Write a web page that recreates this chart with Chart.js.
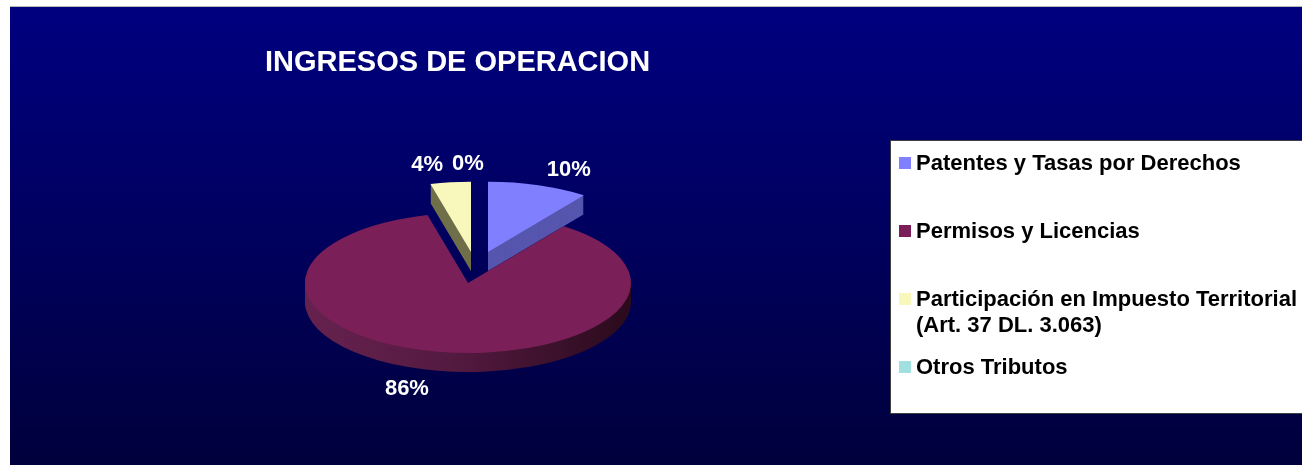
<!DOCTYPE html>
<html>
<head>
<meta charset="utf-8">
<title>Ingresos de Operacion</title>
<script src="https://cdn.jsdelivr.net/npm/chart.js@4.4.1/dist/chart.umd.min.js"></script>
<style>
  html, body { margin: 0; padding: 0; background: #fff; }
  canvas { display: block; }
</style>
</head>
<body>
<canvas id="ingresos" width="1302" height="465"></canvas>
<script>
// --- data ---
const categories = [
  'Patentes y Tasas por Derechos',
  'Permisos y Licencias',
  ['Participación en Impuesto Territorial', '(Art. 37 DL. 3.063)'],
  'Otros Tributos'
];
const shares = [10, 86, 4, 0]; // % of ingresos de operacion

const topColors = ['#8080ff', '#7b1f59', '#f8f8bc', '#a0e0e0'];
const sideColors = ['#5656ae', null, '#6f6f4a', '#6a9a9a']; // null -> shaded gradient

Chart.defaults.font.family = "'Liberation Sans', Arial, sans-serif";

// navy gradient backdrop like the old excel slide
const backdrop = {
  id: 'backdrop',
  beforeDraw(chart) {
    const {ctx, width, height} = chart;
    ctx.save();
    ctx.fillStyle = '#fff';
    ctx.fillRect(0, 0, width, height);
    ctx.fillStyle = '#b8b8b8';
    ctx.fillRect(10, 6, width - 10, 1);
    const g = ctx.createLinearGradient(0, 7, 0, height);
    g.addColorStop(0, '#000080');
    g.addColorStop(1, '#00003c');
    ctx.fillStyle = g;
    ctx.fillRect(10, 7, width - 10, height - 7);
    ctx.restore();
  }
};

// squash the pie into an ellipse, pull some slices out and extrude it (fake 3d)
const tilt = {
  id: 'tilt',
  beforeDatasetsDraw(chart, args, opts) {
    const ctx = chart.ctx;
    const arcs = chart.getDatasetMeta(0).data;
    const {x, outerRadius} = arcs[0];

    const shade = ctx.createLinearGradient(x - outerRadius, 0, x + outerRadius, 0);
    shade.addColorStop(0, '#66224f');
    shade.addColorStop(0.45, '#541a40');
    shade.addColorStop(1, '#2a0a1c');

    const paint = (arc, i, drop, color) => {
      ctx.save();
      ctx.translate(arc.x + (opts.pullX[i] || 0), arc.y + (opts.pullY[i] || 0) + drop);
      ctx.scale(1, opts.squash);
      ctx.translate(-arc.x, -arc.y);
      if (color) {
        const o = Object.create(arc.options);
        o.backgroundColor = color;
        o.borderWidth = 0;
        const side = Object.create(arc);
        side.options = o;
        arc.draw.call(side, ctx);
      } else {
        arc.draw(ctx);
      }
      ctx.restore();
    };

    for (let d = opts.depth; d > 0; d--) {
      arcs.forEach((arc, i) => paint(arc, i, d, sideColors[i] || shade));
    }
    arcs.forEach((arc, i) => paint(arc, i, 0, null));
  },
  beforeDatasetDraw() {
    return false; // already drawn above
  },
  afterDatasetsDraw(chart, args, opts) {
    const ctx = chart.ctx;
    const arcs = chart.getDatasetMeta(0).data;
    ctx.save();
    ctx.font = 'bold 22px ' + Chart.defaults.font.family;
    ctx.fillStyle = '#fff';
    ctx.textAlign = 'center';
    ctx.textBaseline = 'middle';
    arcs.forEach((arc, i) => {
      const mid = (arc.startAngle + arc.endAngle) / 2;
      const lx = arc.x + Math.cos(mid) * arc.outerRadius * opts.labelX;
      const ly = arc.y + Math.sin(mid) * arc.outerRadius * opts.squash * opts.labelY + opts.labelLift;
      ctx.fillText(shares[i] + '%', lx, ly);
    });
    ctx.restore();
  }
};

// white legend box on the right
const boxLegend = {
  id: 'boxLegend',
  afterDraw(chart, args, opts) {
    const ctx = chart.ctx;
    ctx.save();
    ctx.fillStyle = '#fff';
    ctx.fillRect(opts.left, opts.top, chart.width - opts.left + 2, opts.bottom - opts.top);
    ctx.strokeStyle = '#404040';
    ctx.lineWidth = 1;
    ctx.strokeRect(opts.left + 0.5, opts.top + 0.5, chart.width, opts.bottom - opts.top);
    ctx.font = 'bold 22px ' + Chart.defaults.font.family;
    ctx.textBaseline = 'middle';
    chart.data.labels.forEach((label, i) => {
      const y = opts.firstRow + i * opts.rowPitch;
      ctx.fillStyle = topColors[i];
      ctx.fillRect(opts.left + 9, y - 6, 12, 12);
      ctx.fillStyle = '#000';
      [].concat(label).forEach((line, j) => {
        ctx.fillText(line, opts.left + 26, y + 1 + j * opts.lineGap);
      });
    });
    ctx.restore();
  }
};

new Chart(document.getElementById('ingresos'), {
  type: 'pie',
  data: {
    labels: categories,
    datasets: [{
      data: shares,
      backgroundColor: topColors,
      borderWidth: 0,
      hoverOffset: 0
    }]
  },
  options: {
    responsive: false,
    animation: false,
    radius: 163,
    layout: { padding: { left: 265, right: 631, top: 0, bottom: 0 } },
    events: [],
    plugins: {
      legend: { display: false },
      tooltip: { enabled: false },
      title: {
        display: true,
        text: 'INGRESOS DE OPERACION',
        align: 'start',
        color: '#fff',
        font: { size: 29, weight: 'bold' },
        padding: { top: 46, bottom: 20 }
      },
      tilt: {
        squash: 0.43,
        depth: 19,
        pullX: [20, 0, 3, 0],     // exploded slices
        pullY: [-31, 0, -31, 0],
        labelX: 2.0, labelY: 1.62, labelLift: -5
      },
      boxLegend: { left: 890, top: 140, bottom: 413, firstRow: 163, rowPitch: 68, lineGap: 26 }
    }
  },
  plugins: [backdrop, tilt, boxLegend]
});
</script>
</body>
</html>
